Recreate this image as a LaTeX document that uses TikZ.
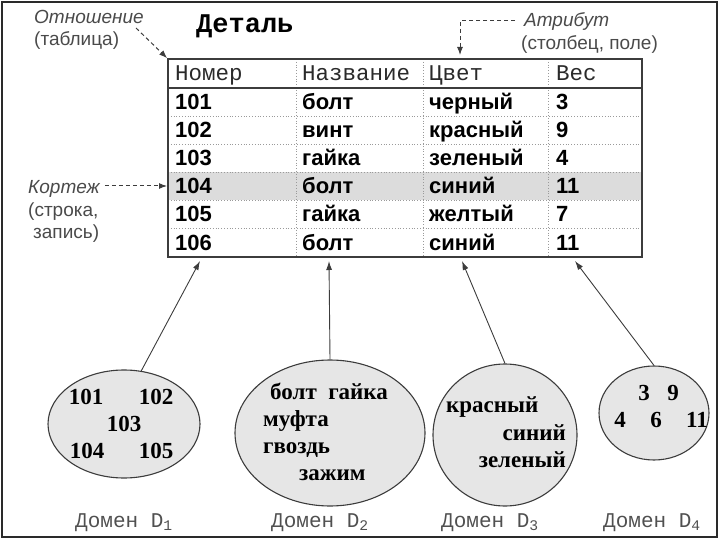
\documentclass[tikz,border=0pt]{standalone}
\usepackage{fontspec}
\setmainfont{Liberation Sans}
\newfontfamily\monof{Liberation Mono}
\newfontfamily\serf{Liberation Serif}
\usetikzlibrary{arrows.meta,shapes.geometric}
\definecolor{framec}{HTML}{2A2A2A}
\definecolor{edgec}{HTML}{3C3C3C}
\definecolor{gridc}{HTML}{9A9A9A}
\definecolor{annc}{HTML}{4A4A4A}
\definecolor{labc}{HTML}{505050}
\definecolor{domfill}{HTML}{E6E6E6}
\definecolor{rowfill}{HTML}{DCDCDC}
\tikzset{
  cell/.style={anchor=base west, inner sep=0pt, font=\bfseries\fontsize{22}{22}\selectfont},
  hdr/.style={anchor=base west, inner sep=0pt, text=framec, font=\monof\fontsize{22.5}{22.5}\selectfont},
  ttl/.style={anchor=base west, inner sep=0pt, font=\monof\bfseries\fontsize{27}{27}\selectfont},
  ann/.style={anchor=base west, inner sep=0pt, text=annc, font=\fontsize{19}{19}\selectfont},
  dom/.style={ellipse, draw=edgec, fill=domfill, line width=1.1pt, inner sep=0pt},
  dtxt/.style={anchor=base, inner sep=0pt, font=\serf\bfseries\fontsize{23}{23}\selectfont},
  dtxtw/.style={dtxt, anchor=base west},
  dtxte/.style={dtxt, anchor=base east},
  dlab/.style={anchor=base, inner sep=0pt, text=labc, font=\monof\fontsize{21}{21}\selectfont},
  conn/.style={draw=edgec, line width=0.9pt, -{Latex[length=9pt,width=6pt]}},
  dconn/.style={draw=edgec, line width=1pt, dash pattern=on 4pt off 3pt, -{Latex[length=8pt,width=6pt]}},
  gridl/.style={draw=gridc, line width=0.8pt, dotted},
}
\begin{document}
\begin{tikzpicture}[x=1pt,y=-1pt]
\useasboundingbox (0,0) rectangle (720,540);
% outer frame
\draw[framec, line width=2.5pt] (2,2) rectangle (717,537);

% table
\fill[rowfill] (168,172) rectangle (642,200);
\foreach \yy in {116,144,172,200,228} \draw[gridl] (168,\yy) -- (642,\yy);
\foreach \xx in {296,423,548} \draw[gridl] (\xx,59) -- (\xx,257);
\draw[edgec, line width=1.6pt] (168,88) -- (642,88);
\node[draw=edgec, line width=1.8pt, minimum width=474pt, minimum height=198pt, inner sep=0pt] (tbl) at (405,158) {};

\node[ttl] (title) at (196,33) {Деталь};
\node[hdr] (h1) at (175,81) {Номер};
\node[hdr] (h2) at (302,81) {Название};
\node[hdr] (h3) at (429,81) {Цвет};
\node[hdr] (h4) at (556,81) {Вес};

\foreach \n/\a/\b/\w [count=\i] in {101/болт/черный/3, 102/винт/красный/9, 103/гайка/зеленый/4, 104/болт/синий/11, 105/гайка/желтый/7, 106/болт/синий/11} {
  \pgfmathsetmacro\yb{82+28*\i}
  \node[cell] (r\i-1) at (175,\yb) {\n};
  \node[cell] (r\i-2) at (302,\yb) {\a};
  \node[cell] (r\i-3) at (429,\yb) {\b};
  \node[cell] (r\i-4) at (556,\yb) {\w};
}

% annotations
\node[ann] (otn) at (34,24) {\itshape Отношение};
\node[ann] (otn2) at (34,46) {(таблица)};
\node[ann] (atr) at (524,27) {\itshape Атрибут};
\node[ann] (atr2) at (521,50) {(столбец, поле)};
\node[ann] (kor) at (28,194) {\itshape Кортеж};
\node[ann] (kor2) at (28,217) {(строка,};
\node[ann] (kor3) at (33,239) {запись)};

\coordinate (otnstart) at (136,28);
\coordinate (atrtip) at (460,55);
\coordinate (kortip) at (167,186);
\draw[dconn] (otnstart) -- (tbl.north west);
\draw[dconn, shorten <=9pt] (atr.west |- 0,21) -| (atrtip);
\draw[dconn, shorten <=5pt] (kor.east |- 0,186) -- (kortip);

% domains
\node[dom, minimum width=152pt, minimum height=108pt] (d1) at (124,424) {};
\node[dom, minimum width=190pt, minimum height=146pt] (d2) at (330,433) {};
\node[dom, minimum width=144pt, minimum height=142pt] (d3) at (505,435) {};
\node[dom, minimum width=110pt, minimum height=94pt] (d4) at (654,413) {};

\node[dtxt] (v101) at (86,404) {101};
\node[dtxt] (v102) at (156,404) {102};
\node[dtxt] (v103) at (124,431) {103};
\node[dtxt] (v104) at (87,458) {104};
\node[dtxt] (v105) at (156,458) {105};

\node[dtxtw] (vbolt) at (270,399) {болт\ \ гайка};
\node[dtxtw] (vmuf) at (263,426) {муфта};
\node[dtxtw] (vgv) at (263,453) {гвоздь};
\node[dtxtw] (vzaz) at (299,480) {зажим};

\node[dtxtw] (vkr) at (446,412) {красный};
\node[dtxte] (vsin) at (566,440) {синий};
\node[dtxte] (vzel) at (566,467) {зеленый};

\node[dtxt] (w3) at (644,400) {3};
\node[dtxt] (w9) at (673,400) {9};
\node[dtxt] (w4) at (620,427) {4};
\node[dtxt] (w6) at (656,427) {6};
\node[dtxt] (w11) at (697,427) {11};

\node[dlab] (l1) at (124,527) {Домен D\textsubscript{1}};
\node[dlab] (l2) at (320,527) {Домен D\textsubscript{2}};
\node[dlab] (l3) at (490,527) {Домен D\textsubscript{3}};
\node[dlab] (l4) at (652,527) {Домен D\textsubscript{4}};

\coordinate (t1) at (200,261);
\coordinate (t2) at (329,261);
\coordinate (t3) at (462,261);
\coordinate (t4) at (575,261);
\draw[conn] (d1.72) -- (t1);
\draw[conn] (d2.north) -- (t2);
\draw[conn] (d3.north) -- (t3);
\draw[conn] (d4.north) -- (t4);
\end{tikzpicture}
\end{document}
